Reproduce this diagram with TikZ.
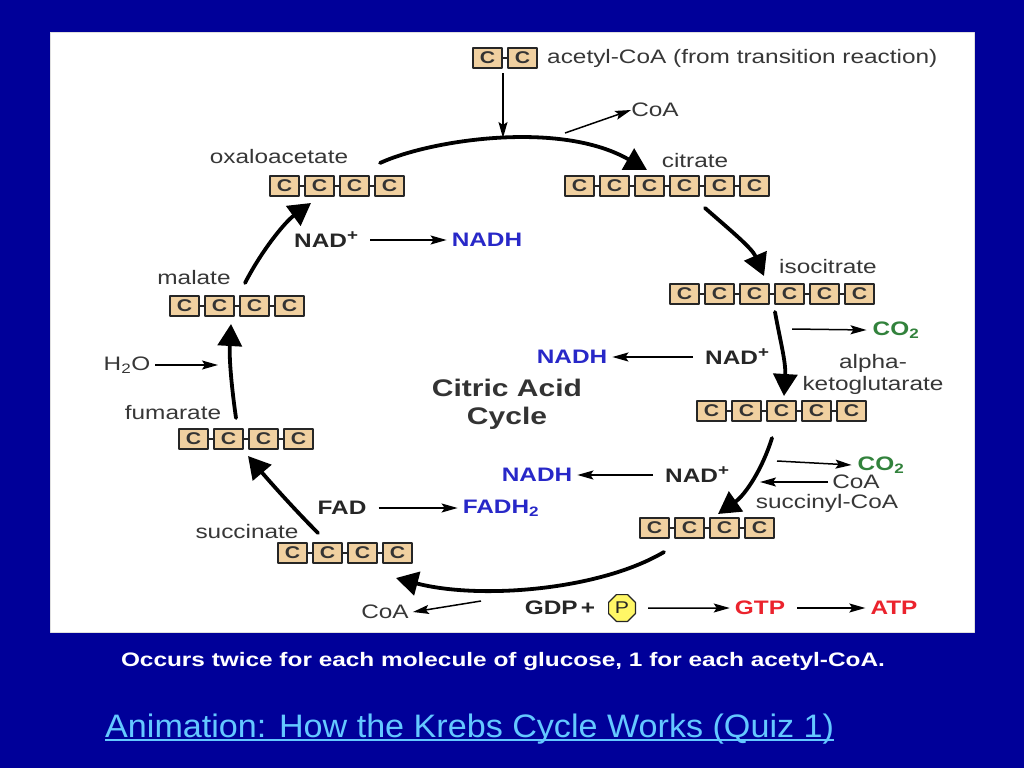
\documentclass[tikz,border=0pt]{standalone}
\usepackage{fontspec}
\setmainfont{Liberation Sans}[FakeStretch=1.25]
\newfontfamily\linkfont{Liberation Sans}[FakeStretch=1.05]
\usetikzlibrary{arrows.meta,shapes.geometric}
\definecolor{slideblue}{RGB}{0,0,153}
\definecolor{boxtan}{RGB}{240,208,160}
\definecolor{nadblue}{RGB}{40,40,200}
\definecolor{cogreen}{RGB}{50,130,60}
\definecolor{atpred}{RGB}{235,35,45}
\definecolor{linkblue}{RGB}{100,200,255}
\definecolor{inkgray}{RGB}{55,55,55}
\tikzset{
  cbox/.style={draw=black!85, line width=1.2pt, fill=boxtan, minimum width=29pt,
    minimum height=20pt, inner sep=0pt, text=black!80, font=\bfseries\fontsize{17}{17}\selectfont},
  bond/.style={line width=1.2pt, black!85},
  lbl/.style={inner sep=0pt, text=inkgray, font=\fontsize{19.5}{22}\selectfont},
  chem/.style={inner sep=0pt, text=black!85, font=\bfseries\fontsize{19.5}{22}\selectfont},
  cyc/.style={line width=3.8pt, line cap=round, -{Triangle[length=22pt,width=24pt]}},
  rxn/.style={line width=1.5pt, -{Stealth[length=16pt,width=9pt,inset=3pt]}, shorten <=12pt, shorten >=5pt},
  side/.style={line width=1.5pt, -{Stealth[length=16pt,width=9pt,inset=3pt]}}
}
% a row of carbon boxes: name, count, x of first box, y
\newcommand{\carbons}[4]{%
  \foreach \i in {1,...,#2}{%
    \node[cbox] (#1\i) at ({#3+(\i-1)*35},#4) {C};}
  \foreach \i in {2,...,#2}{%
    \pgfmathtruncatemacro{\j}{\i-1}
    \draw[bond] (#1\j.east) -- (#1\i.west);}}
\newcommand{\plus}{\raisebox{7pt}{\fontsize{15}{15}\selectfont +}}
\begin{document}
\begin{tikzpicture}[x=1pt,y=-1pt, line join=round]
  \useasboundingbox (0,0) rectangle (1024,768);
  \fill[slideblue] (0,0) rectangle (1024,768);
  \fill[white] (50,33) rectangle (974,632);
  \draw[white!75!gray, line width=1pt] (50,33) rectangle (974,632);

  %carbon skeletons
  \carbons{ac}{2}{487.5}{58}
  \carbons{oxa}{4}{284.5}{186}
  \carbons{cit}{6}{579.5}{186}
  \carbons{iso}{6}{684.5}{294}
  \carbons{akg}{5}{711.5}{411}
  \carbons{suc}{4}{654.5}{528}
  \carbons{sn}{4}{292.5}{553}
  \carbons{fum}{4}{193.5}{439}
  \carbons{mal}{4}{184.5}{306}

  %names
  \node[lbl, anchor=west] (acname) at (547,58) {acetyl-CoA (from transition reaction)};
  \node[lbl] (coa1) at (655,110) {CoA};
  \node[lbl] (oxaname) at (279,157) {oxaloacetate};
  \node[lbl] (citname) at (695,161) {citrate};
  \node[lbl] (isoname) at (828,267) {isocitrate};
  \node[lbl, align=center] (akgname) at (873,374) {alpha-\\ketoglutarate};
  \node[lbl] (sucname) at (827,503) {succinyl-CoA};
  \node[lbl] (snname) at (247,532) {succinate};
  \node[lbl] (fumname) at (173,413) {fumarate};
  \node[lbl] (malname) at (194,278) {malate};
  \node[chem, align=center, font=\bfseries\fontsize{24}{28}\selectfont, text=black!80]
    (title) at (507,404) {Citric Acid\\Cycle};

  %cofactors
  \node[lbl] (h2o) at (127,365) {H\textsubscript{2}O};
  \node[chem] (fad) at (342,508) {FAD};
  \node[chem, text=nadblue] (fadh) at (501,508) {FADH\textsubscript{2}};
  \node[chem, anchor=west] (nad1) at (294,240) {NAD\plus};
  \node[chem, text=nadblue] (nadh1) at (487,240) {NADH};
  \node[chem, anchor=west] (nad2) at (705,357) {NAD\plus};
  \node[chem, text=nadblue] (nadh2) at (572,357) {NADH};
  \node[chem, anchor=west] (nad3) at (665,475) {NAD\plus};
  \node[chem, text=nadblue] (nadh3) at (537,475) {NADH};
  \node[chem, text=cogreen] (co2a) at (896,330) {CO\textsubscript{2}};
  \node[chem, text=cogreen] (co2b) at (881,465) {CO\textsubscript{2}};
  \node[lbl] (coa2) at (856,482) {CoA};
  \node[lbl] (coa3) at (385,612) {CoA};
  \node[chem] (gdp) at (560,608) {GDP\,+};
  \node[regular polygon, regular polygon sides=8, draw=black!85, line width=1.2pt,
    fill=yellow!60, minimum size=29pt, inner sep=0pt, text=black!85,
    font=\fontsize{17}{17}\selectfont] (pi) at (622,608) {P};
  \node[chem, text=atpred] (gtp) at (760,608) {GTP};
  \node[chem, text=atpred] (atp) at (894,608) {ATP};

  %cycle arrows
  \coordinate (top) at (503,138);
  \draw[cyc] (380,163) .. controls (430,140) and (560,120) .. (647,170);
  \draw[cyc] (705,208) .. controls (730,230) and (752,248) .. (764,276);
  \draw[cyc] (775,312) .. controls (780,340) and (786,362) .. (784,396);
  \draw[cyc] (772,438) .. controls (762,470) and (745,495) .. (718,514);
  \draw[cyc] (664,552) .. controls (600,590) and (480,600) .. (396,578);
  \draw[cyc] (318,533) .. controls (295,510) and (270,482) .. (248,456);
  \draw[cyc] (236,418) .. controls (232,390) and (229,360) .. (231,324);
  \draw[cyc] (245,283) .. controls (262,250) and (285,222) .. (311,203);

  %side reactions
  \draw[side] (503,73) -- (top);
  \draw[side] (565,133) -- (coa1.west);
  \draw[rxn] (nad1) -- (nadh1);
  \draw[rxn] (nad2) -- (nadh2);
  \draw[rxn] (nad3) -- (nadh3);
  \draw[rxn] (fad) -- (fadh);
  \draw[side] (792,329) -- ([xshift=-6pt]co2a.west);
  \draw[side] (777,461) -- ([xshift=-6pt]co2b.west);
  \draw[side] ([xshift=-4pt]coa2.west) -- (760,482);
  \draw[side] (481,601) -- ([xshift=4pt]coa3.east);
  \draw[side, shorten <=5pt] (h2o.east) -- (218,365);
  \draw[rxn] (pi) -- (gtp);
  \draw[rxn] (gtp) -- (atp);

  %caption and link
  \node[inner sep=0pt, text=white, font=\bfseries\fontsize{19.5}{22}\selectfont]
    (caption) at (503,661) {Occurs twice for each molecule of glucose, 1 for each acetyl-CoA.};
  \node[inner sep=0pt, anchor=base west, text=linkblue, font=\linkfont\fontsize{32.5}{36}\selectfont]
    (link) at (105,737) {Animation: How the Krebs Cycle Works (Quiz 1)};
  \draw[linkblue, line width=1.2pt] ([yshift=-3pt]link.base west) -- ([yshift=-3pt]link.base east);
\end{tikzpicture}
\end{document}
